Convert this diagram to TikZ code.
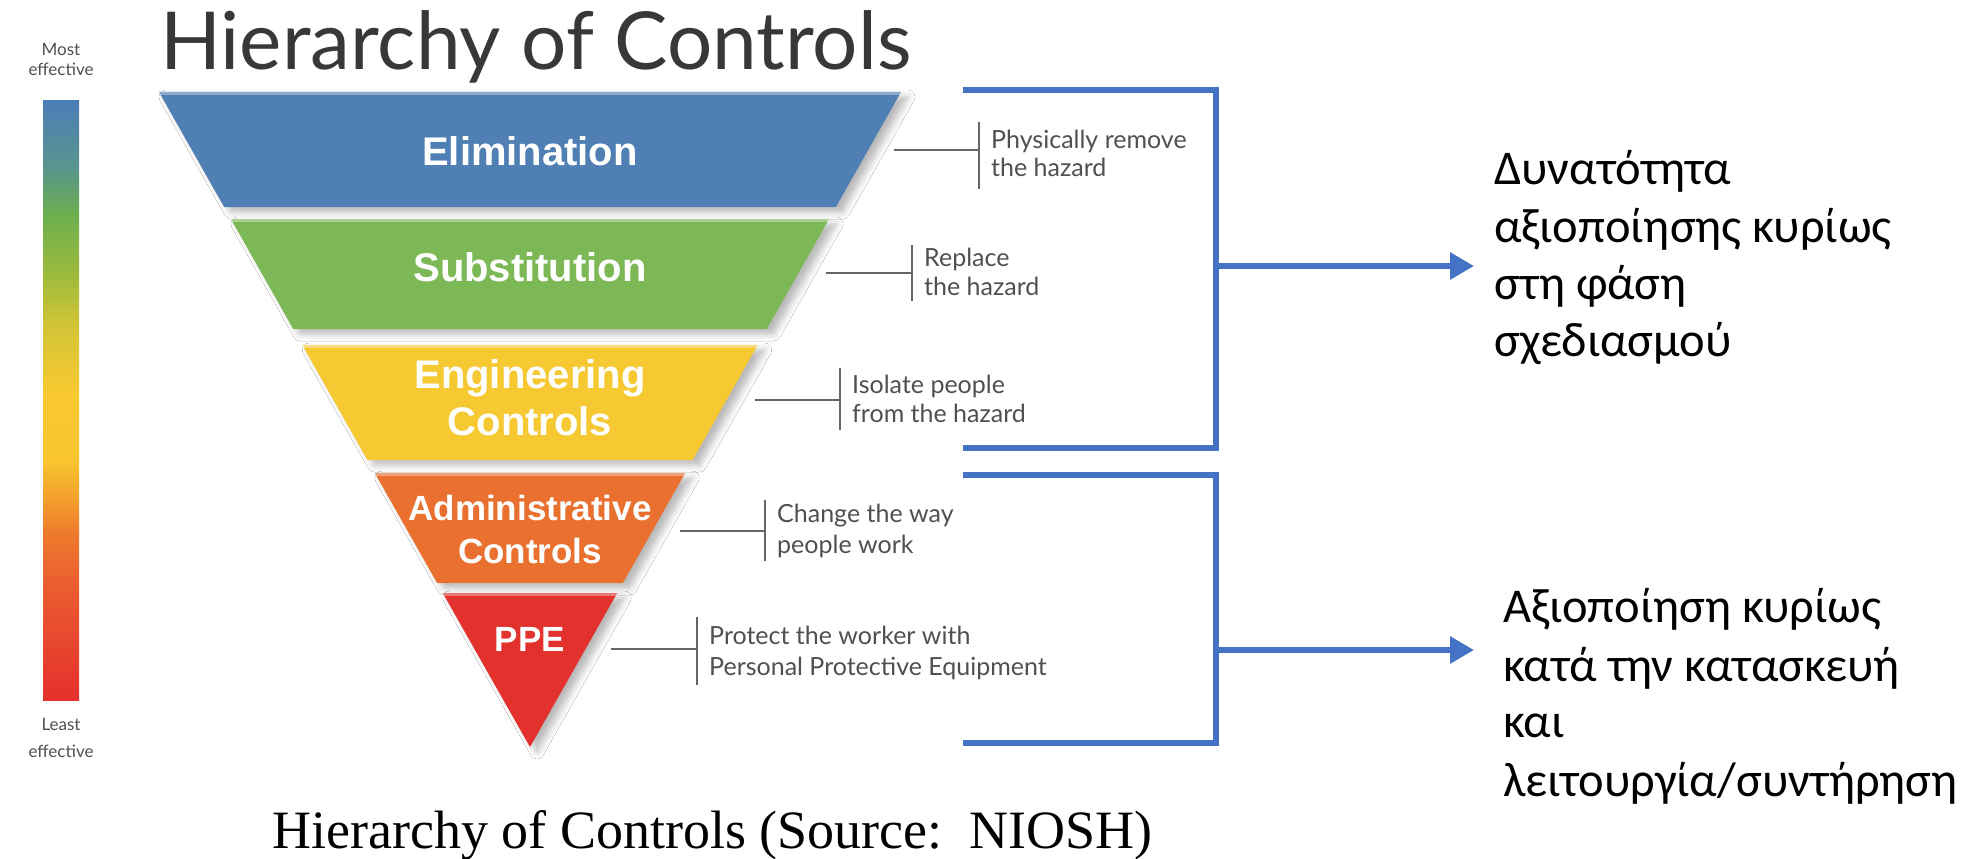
\documentclass[tikz,border=0pt]{standalone}
\usepackage{fontspec}
\setmainfont{Lato}
\newfontfamily\grk{Carlito}
\newfontfamily\bsans{Liberation Sans}
\newfontfamily\capserif{Liberation Serif}
\usetikzlibrary{arrows.meta,shadows.blur}
\definecolor{cB}{HTML}{4B7EB8}
\definecolor{cT}{HTML}{5A958C}
\definecolor{cG}{HTML}{6AAF4E}
\definecolor{cO1}{HTML}{A2BC3B}
\definecolor{cO2}{HTML}{D2C436}
\definecolor{cY1}{HTML}{F9C931}
\definecolor{cY2}{HTML}{F8C52F}
\definecolor{cOr1}{HTML}{F3A22C}
\definecolor{cOr2}{HTML}{EE7B2D}
\definecolor{cOr3}{HTML}{EA5F30}
\definecolor{cR}{HTML}{E5302D}
\definecolor{tBlue}{HTML}{4F7FB3}
\definecolor{tGreen}{HTML}{7DB856}
\definecolor{tYellow}{HTML}{F6C832}
\definecolor{tOrange}{HTML}{E9702F}
\definecolor{tRed}{HTML}{E3312E}
\definecolor{brk}{HTML}{4472C4}
\definecolor{lblgray}{HTML}{505050}
\definecolor{titlegray}{HTML}{383838}
\pgfdeclareverticalshading{effbar}{100bp}{color(0bp)=(cR); color(25bp)=(cR); color(35bp)=(cOr3); color(39bp)=(cOr2); color(42bp)=(cOr1); color(45bp)=(cY2); color(50.5bp)=(cY1); color(56.25bp)=(cO2); color(60bp)=(cO1); color(65.5bp)=(cG); color(69.25bp)=(cT); color(75bp)=(cB); color(100bp)=(cB)}
\newcommand\tierpath[2]{({530-0.56641*(747-#1)},#1) -- ({530+0.56641*(747-#1)},#1) -- ({530+0.56641*(747-#2)},#2) -- ({530-0.56641*(747-#2)},#2) -- cycle}
\newcommand\tiertop[1]{({530-0.56641*(747-#1)},#1+1.5) -- ({530+0.56641*(747-#1)},#1+1.5)}
\begin{document}
\begin{tikzpicture}[x=1pt,y=-1pt,
  tier/.style={blur shadow={shadow xshift=7pt,shadow yshift=-5pt,shadow opacity=28,shadow blur radius=7pt}},
  hilite/.style={draw=white,draw opacity=0.35,line width=3pt},
  tiertext/.style={text=white,anchor=base,inner sep=0pt,font=\bsans\bfseries\fontsize{40}{48}\selectfont},
  tiertextsm/.style={tiertext,font=\bsans\bfseries\fontsize{35}{42}\selectfont},
  lbl/.style={anchor=base west,inner sep=0pt,text=lblgray,font=\fontsize{25}{30}\selectfont},
  lblline/.style={draw=gray!80!black,line width=1.6pt},
  effl/.style={anchor=base,inner sep=0pt,text=lblgray,font=\fontsize{17}{20}\selectfont},
  bracket/.style={draw=brk,line width=6pt},
  barrow/.style={draw=brk,line width=6pt,-{Triangle[length=24pt,width=26pt]}},
  grktxt/.style={anchor=base west,inner sep=0pt,font=\grk\fontsize{48.5}{58}\selectfont}]
\fill[white] (0,0) rectangle (1966,859);
\useasboundingbox (0,0) rectangle (1966,859);
% title and side scale
\node[anchor=base west,inner sep=0pt,text=titlegray,font=\fontsize{80}{90}\selectfont] (title) at (160,70) {Hierarchy of Controls};
\node[effl] (most1) at (61,56) {Most};
\node[effl] (most2) at (61,76) {effective};
\shade[shading=effbar] (43,100) rectangle (79,700);
\node[effl] (least1) at (61,730) {Least};
\node[effl] (least2) at (61,757) {effective};
% tiers
\fill[tBlue,tier] \tierpath{92}{207};
\fill[tGreen,tier] \tierpath{219}{329};
\fill[tYellow,tier] \tierpath{345}{460};
\fill[tOrange,tier] \tierpath{473}{583};
\fill[tRed,tier] \tierpath{593}{747};
\draw[hilite] \tiertop{92};
\draw[hilite] \tiertop{219};
\draw[hilite] \tiertop{345};
\draw[hilite] \tiertop{473};
\draw[hilite] \tiertop{593};
\node[tiertext] (elim) at (530,165) {Elimination};
\node[tiertext] (subs) at (530,281) {Substitution};
\node[tiertext] (eng1) at (530,388) {Engineering};
\node[tiertext] (eng2) at (530,435) {Controls};
\node[tiertextsm] (adm1) at (530,520) {Administrative};
\node[tiertextsm] (adm2) at (530,563) {Controls};
\node[tiertextsm] (ppe) at (530,651) {PPE};
% labels
\coordinate (a1) at (894,150); \coordinate (t1) at (979,150);
\draw[lblline] (a1) -- (t1); \draw[lblline] (979,122) -- (979,189);
\node[lbl] (l1a) at (991,148) {Physically remove};
\node[lbl] (l1b) at (991,176) {the hazard};
\coordinate (a2) at (826,273); \coordinate (t2) at (912,273);
\draw[lblline] (a2) -- (t2); \draw[lblline] (912,245) -- (912,301);
\node[lbl] (l2a) at (924,266) {Replace};
\node[lbl] (l2b) at (924,295) {the hazard};
\coordinate (a3) at (755,400); \coordinate (t3) at (840,400);
\draw[lblline] (a3) -- (t3); \draw[lblline] (840,368) -- (840,430);
\node[lbl] (l3a) at (852,393) {Isolate people};
\node[lbl] (l3b) at (852,422) {from the hazard};
\coordinate (a4) at (680,531); \coordinate (t4) at (765,531);
\draw[lblline] (a4) -- (t4); \draw[lblline] (765,500) -- (765,561);
\node[lbl] (l4a) at (777,522) {Change the way};
\node[lbl] (l4b) at (777,553) {people work};
\coordinate (a5) at (611,649); \coordinate (t5) at (697,649);
\draw[lblline] (a5) -- (t5); \draw[lblline] (697,617) -- (697,685);
\node[lbl] (l5a) at (709,644) {Protect the worker with};
\node[lbl] (l5b) at (709,675) {Personal Protective Equipment};
% brackets
\coordinate (b1s) at (963,90); \coordinate (b1c) at (1216,90);
\coordinate (b1d) at (1216,448); \coordinate (b1e) at (963,448);
\draw[bracket,line join=miter] (b1s) -- (b1c) -- (b1d) -- (b1e);
\coordinate (b1m) at (1216,266); \coordinate (b1t) at (1474,266);
\draw[barrow] (b1m) -- (b1t);
\coordinate (b2s) at (963,475); \coordinate (b2c) at (1216,475);
\coordinate (b2d) at (1216,743); \coordinate (b2e) at (963,743);
\draw[bracket,line join=miter] (b2s) -- (b2c) -- (b2d) -- (b2e);
\coordinate (b2m) at (1216,650); \coordinate (b2t) at (1474,650);
\draw[barrow] (b2m) -- (b2t);
% greek texts
\node[grktxt] (g1) at (1494,184) {Δυνατότητα};
\node[grktxt] (g2) at (1494,242) {αξιοποίησης κυρίως};
\node[grktxt] (g3) at (1494,299) {στη φάση};
\node[grktxt] (g4) at (1494,356) {σχεδιασμού};
\node[grktxt] (h1) at (1503,622) {Αξιοποίηση κυρίως};
\node[grktxt] (h2) at (1503,681) {κατά την κατασκευή};
\node[grktxt] (h3) at (1503,737) {και};
\node[grktxt] (h4) at (1503,796) {λειτουργία/συντήρηση};
% caption
\node[anchor=base west,inner sep=0pt,font=\capserif\fontsize{54}{60}\selectfont] (cap) at (272,848) {Hierarchy of Controls (Source:\ \ NIOSH)};
\end{tikzpicture}
\end{document}
